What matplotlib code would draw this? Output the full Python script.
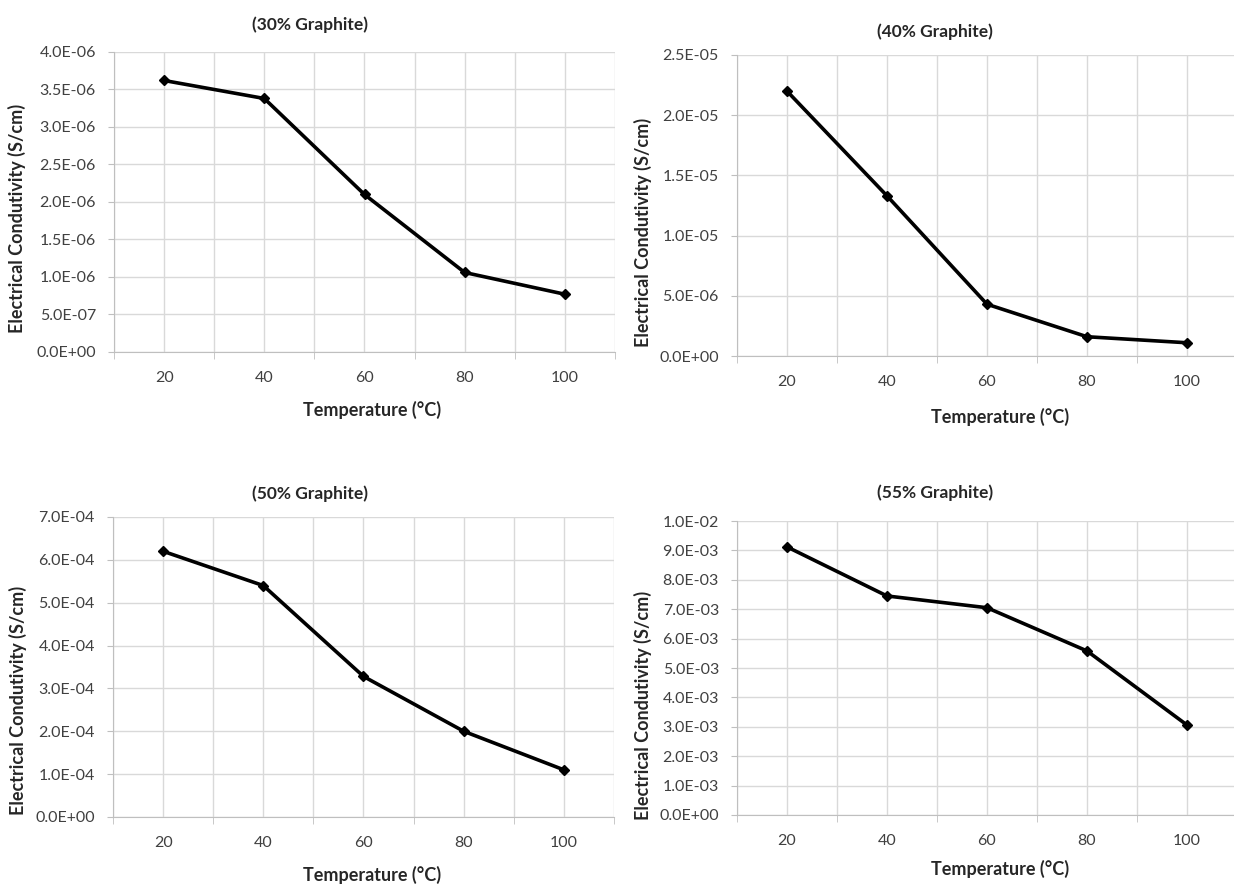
import matplotlib
matplotlib.use("Agg")
import matplotlib.pyplot as plt
from matplotlib.ticker import FuncFormatter, MultipleLocator

plt.rcParams['font.family'] = ['Lato', 'DejaVu Sans']

temps = [20, 40, 60, 80, 100]
cond_30 = [3.62e-6, 3.38e-6, 2.10e-6, 1.06e-6, 0.77e-6]
cond_40 = [2.20e-5, 1.33e-5, 4.3e-6, 1.6e-6, 1.1e-6]
cond_50 = [6.20e-4, 5.40e-4, 3.28e-4, 2.00e-4, 1.10e-4]
cond_55 = [9.12e-3, 7.45e-3, 7.05e-3, 5.58e-3, 3.06e-3]

titles = ['(30% Graphite)', '(40% Graphite)', '(50% Graphite)', '(55% Graphite)']
ymax = [4.0e-6, 2.5e-5, 7.0e-4, 1.0e-2]
ystep = [5.0e-7, 5.0e-6, 1.0e-4, 1.0e-3]

W, H = 1234, 884
fig = plt.figure(figsize=(W / 100, H / 100), dpi=100)


def px_axes(l, t, r, b):
    return fig.add_axes([l / W, 1 - b / H, (r - l) / W, (b - t) / H])


# pixel boxes: left, top, right, bottom
boxes = [(114, 52, 615, 352), (737, 55, 1234, 356),
         (113, 517, 614, 817), (737, 521, 1234, 815)]
xmax = [110, 109.4, 110, 109.4]
# title / xlabel / ylabel positions (pixels)
title_pos = [(310, 25), (935, 32), (310, 494), (935, 493)]
xlab_pos = [(372, 410), (1000, 417), (372, 875), (1000, 869)]
ylab_pos = [(17, 218), (643, 232), (18, 700), (643, 705)]

series = [cond_30, cond_40, cond_50, cond_55]

for i in range(4):
    ax = px_axes(*boxes[i])
    ax.plot(temps, series[i], color='black', lw=2.6, marker='D', ms=5, zorder=3)
    ax.set_xlim(10, xmax[i])
    ax.set_ylim(0, ymax[i])
    ax.xaxis.set_minor_locator(MultipleLocator(20, offset=10))
    ax.set_xticks(temps)
    ax.yaxis.set_major_locator(MultipleLocator(ystep[i]))
    ax.yaxis.set_major_formatter(FuncFormatter(lambda v, p: '{:.1E}'.format(v)))
    ax.grid(True, which='both', color='#d9d9d9', lw=1)
    ax.set_axisbelow(True)
    for s in ['top', 'right']:
        ax.spines[s].set_visible(False)
    for s in ['left', 'bottom']:
        ax.spines[s].set_color('#bfbfbf')
    ax.tick_params(axis='x', which='major', length=0, pad=14, labelsize=11.5, labelcolor='#404040')
    ax.tick_params(axis='x', which='minor', length=5, color='#bfbfbf')
    ax.tick_params(axis='y', length=4, color='#bfbfbf', pad=9, labelsize=11.5, labelcolor='#404040')

    fig.text(title_pos[i][0] / W, 1 - title_pos[i][1] / H, titles[i], ha='center', va='center',
             fontsize=12.5, fontweight='bold', color='#262626')
    fig.text(xlab_pos[i][0] / W, 1 - xlab_pos[i][1] / H, 'Temperature (°C)', ha='center', va='center',
             fontsize=13, fontweight='bold', color='#262626')
    fig.text(ylab_pos[i][0] / W, 1 - ylab_pos[i][1] / H, 'Electrical Condutivity (S/cm)', ha='center',
             va='center', rotation=90, fontsize=13, fontweight='bold', color='#262626')

fig.savefig('out.png', dpi=100)
